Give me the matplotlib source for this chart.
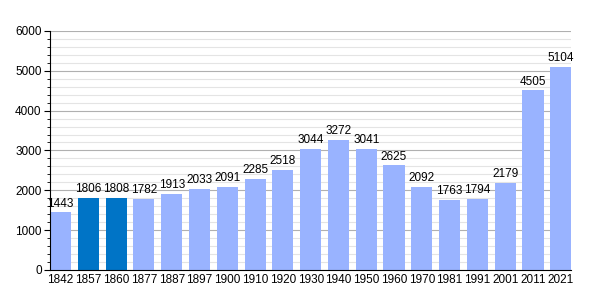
import numpy as np
import matplotlib.pyplot as plt
from matplotlib.ticker import MultipleLocator

plt.rcParams["font.family"] = ["Liberation Sans", "DejaVu Sans"]

years = ["1842", "1857", "1860", "1877", "1887", "1897", "1900", "1910", "1920", "1930",
         "1940", "1950", "1960", "1970", "1981", "1991", "2001", "2011", "2021"]
population = [1443, 1806, 1808, 1782, 1913, 2033, 2091, 2285, 2518, 3044,
              3272, 3041, 2625, 2092, 1763, 1794, 2179, 4505, 5104]
highlight = ["1857", "1860"]

light = "#99b3ff"
dark = "#0074c6"
colors = [dark if y in highlight else light for y in years]

fig = plt.figure(figsize=(6, 3), dpi=100)
ax = fig.add_axes([0.0833, 0.1, 0.869, 0.797])

x = np.arange(len(years))
ax.bar(x, population, width=0.76, color=colors, zorder=3)
for xi, v in zip(x, population):
    ax.text(xi, v + 70, str(v), ha="center", va="bottom", fontsize=8.5, zorder=4)

ax.set_xlim(-0.38, len(years) - 0.62)
ax.set_ylim(0, 6000)
ax.yaxis.set_major_locator(MultipleLocator(1000))
ax.yaxis.set_minor_locator(MultipleLocator(200))
ax.grid(axis="y", which="major", color="#b0b0b0", linewidth=0.8, zorder=0)
ax.grid(axis="y", which="minor", color="#e4e4e4", linewidth=0.8, zorder=0)

ax.set_xticks(x)
ax.set_xticklabels(years)
ax.tick_params(axis="x", length=0, labelsize=8.5, pad=3)
ax.tick_params(axis="y", which="major", length=4, labelsize=8.5, pad=2)
ax.tick_params(axis="y", which="minor", length=2)

for s in ["top", "right"]:
    ax.spines[s].set_visible(False)
ax.spines["left"].set_zorder(5)
ax.spines["bottom"].set_zorder(5)

fig.savefig("out.png", dpi=100)
